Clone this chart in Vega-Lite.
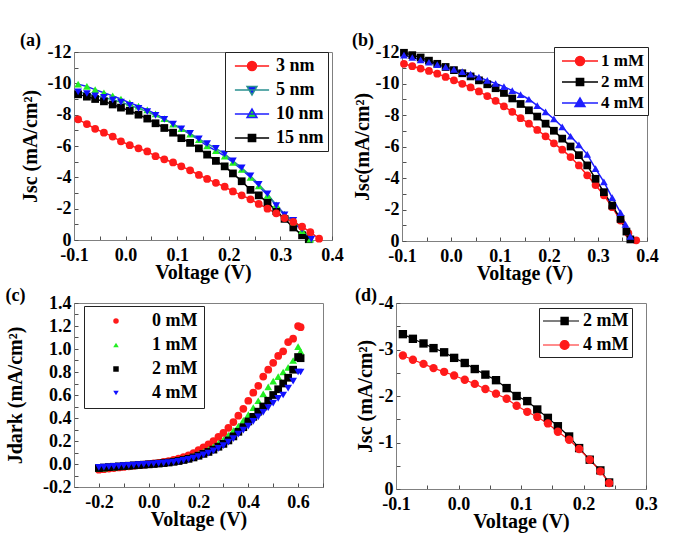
{
  "$schema": "https://vega.github.io/schema/vega-lite/v6.json",
  "background": "white",
  "padding": {"left": 5, "top": 31, "right": 5, "bottom": 5},
  "resolve": {"scale": {"stroke": "independent", "fill": "independent", "shape": "independent"}},
  "datasets": {
    "a": [
      {"V":-0.092,"J":-9.30,"s":"15 nm"},{"V":-0.075,"J":-9.15,"s":"15 nm"},{"V":-0.059,"J":-9.00,"s":"15 nm"},{"V":-0.042,"J":-8.85,"s":"15 nm"},{"V":-0.025,"J":-8.65,"s":"15 nm"},{"V":-0.009,"J":-8.45,"s":"15 nm"},{"V":0.008,"J":-8.25,"s":"15 nm"},{"V":0.025,"J":-8.00,"s":"15 nm"},{"V":0.042,"J":-7.75,"s":"15 nm"},{"V":0.058,"J":-7.45,"s":"15 nm"},{"V":0.075,"J":-7.15,"s":"15 nm"},{"V":0.092,"J":-6.85,"s":"15 nm"},{"V":0.108,"J":-6.50,"s":"15 nm"},{"V":0.125,"J":-6.20,"s":"15 nm"},{"V":0.142,"J":-5.85,"s":"15 nm"},{"V":0.158,"J":-5.45,"s":"15 nm"},{"V":0.175,"J":-5.05,"s":"15 nm"},{"V":0.192,"J":-4.70,"s":"15 nm"},{"V":0.208,"J":-4.25,"s":"15 nm"},{"V":0.225,"J":-3.75,"s":"15 nm"},{"V":0.242,"J":-3.20,"s":"15 nm"},{"V":0.258,"J":-2.85,"s":"15 nm"},{"V":0.275,"J":-2.40,"s":"15 nm"},{"V":0.292,"J":-1.85,"s":"15 nm"},{"V":0.308,"J":-1.35,"s":"15 nm"},{"V":0.325,"J":-0.80,"s":"15 nm"},{"V":0.342,"J":-0.30,"s":"15 nm"},{"V":0.355,"J":-0.05,"s":"15 nm"},
      {"V":-0.092,"J":-9.95,"s":"10 nm"},{"V":-0.075,"J":-9.80,"s":"10 nm"},{"V":-0.059,"J":-9.60,"s":"10 nm"},{"V":-0.042,"J":-9.40,"s":"10 nm"},{"V":-0.025,"J":-9.20,"s":"10 nm"},{"V":-0.009,"J":-9.00,"s":"10 nm"},{"V":0.008,"J":-8.75,"s":"10 nm"},{"V":0.025,"J":-8.55,"s":"10 nm"},{"V":0.042,"J":-8.30,"s":"10 nm"},{"V":0.058,"J":-8.05,"s":"10 nm"},{"V":0.075,"J":-7.75,"s":"10 nm"},{"V":0.092,"J":-7.40,"s":"10 nm"},{"V":0.108,"J":-7.10,"s":"10 nm"},{"V":0.125,"J":-6.75,"s":"10 nm"},{"V":0.142,"J":-6.40,"s":"10 nm"},{"V":0.158,"J":-6.00,"s":"10 nm"},{"V":0.175,"J":-5.70,"s":"10 nm"},{"V":0.192,"J":-5.35,"s":"10 nm"},{"V":0.208,"J":-4.95,"s":"10 nm"},{"V":0.225,"J":-4.50,"s":"10 nm"},{"V":0.242,"J":-4.00,"s":"10 nm"},{"V":0.258,"J":-3.45,"s":"10 nm"},{"V":0.275,"J":-2.85,"s":"10 nm"},{"V":0.292,"J":-2.25,"s":"10 nm"},{"V":0.308,"J":-1.65,"s":"10 nm"},{"V":0.325,"J":-1.15,"s":"10 nm"},{"V":0.342,"J":-0.60,"s":"10 nm"},{"V":0.358,"J":-0.05,"s":"10 nm"},
      {"V":-0.092,"J":-9.45,"s":"5 nm"},{"V":-0.075,"J":-9.35,"s":"5 nm"},{"V":-0.059,"J":-9.20,"s":"5 nm"},{"V":-0.042,"J":-9.10,"s":"5 nm"},{"V":-0.025,"J":-8.95,"s":"5 nm"},{"V":-0.009,"J":-8.80,"s":"5 nm"},{"V":0.008,"J":-8.60,"s":"5 nm"},{"V":0.025,"J":-8.40,"s":"5 nm"},{"V":0.042,"J":-8.20,"s":"5 nm"},{"V":0.058,"J":-7.95,"s":"5 nm"},{"V":0.075,"J":-7.70,"s":"5 nm"},{"V":0.092,"J":-7.40,"s":"5 nm"},{"V":0.108,"J":-7.10,"s":"5 nm"},{"V":0.125,"J":-6.80,"s":"5 nm"},{"V":0.142,"J":-6.45,"s":"5 nm"},{"V":0.158,"J":-6.15,"s":"5 nm"},{"V":0.175,"J":-5.85,"s":"5 nm"},{"V":0.192,"J":-5.50,"s":"5 nm"},{"V":0.208,"J":-5.05,"s":"5 nm"},{"V":0.225,"J":-4.60,"s":"5 nm"},{"V":0.242,"J":-4.10,"s":"5 nm"},{"V":0.258,"J":-3.55,"s":"5 nm"},{"V":0.275,"J":-2.95,"s":"5 nm"},{"V":0.292,"J":-2.20,"s":"5 nm"},{"V":0.308,"J":-1.60,"s":"5 nm"},{"V":0.325,"J":-1.25,"s":"5 nm"},{"V":0.342,"J":-0.70,"s":"5 nm"},{"V":0.360,"J":-0.05,"s":"5 nm"},
      {"V":-0.092,"J":-7.70,"s":"3 nm"},{"V":-0.075,"J":-7.40,"s":"3 nm"},{"V":-0.059,"J":-7.10,"s":"3 nm"},{"V":-0.042,"J":-6.85,"s":"3 nm"},{"V":-0.025,"J":-6.60,"s":"3 nm"},{"V":-0.009,"J":-6.30,"s":"3 nm"},{"V":0.008,"J":-6.05,"s":"3 nm"},{"V":0.025,"J":-5.85,"s":"3 nm"},{"V":0.042,"J":-5.65,"s":"3 nm"},{"V":0.058,"J":-5.35,"s":"3 nm"},{"V":0.075,"J":-5.15,"s":"3 nm"},{"V":0.092,"J":-4.95,"s":"3 nm"},{"V":0.108,"J":-4.70,"s":"3 nm"},{"V":0.125,"J":-4.45,"s":"3 nm"},{"V":0.142,"J":-4.15,"s":"3 nm"},{"V":0.158,"J":-3.90,"s":"3 nm"},{"V":0.175,"J":-3.65,"s":"3 nm"},{"V":0.192,"J":-3.40,"s":"3 nm"},{"V":0.208,"J":-3.10,"s":"3 nm"},{"V":0.225,"J":-2.85,"s":"3 nm"},{"V":0.242,"J":-2.60,"s":"3 nm"},{"V":0.258,"J":-2.30,"s":"3 nm"},{"V":0.275,"J":-2.00,"s":"3 nm"},{"V":0.292,"J":-1.70,"s":"3 nm"},{"V":0.308,"J":-1.40,"s":"3 nm"},{"V":0.325,"J":-1.15,"s":"3 nm"},{"V":0.342,"J":-0.85,"s":"3 nm"},{"V":0.358,"J":-0.50,"s":"3 nm"},{"V":0.375,"J":-0.08,"s":"3 nm"}
    ],
    "b": [
      {"V":-0.096,"J":-11.25,"s":"1 mM"},{"V":-0.079,"J":-11.10,"s":"1 mM"},{"V":-0.062,"J":-10.95,"s":"1 mM"},{"V":-0.045,"J":-10.80,"s":"1 mM"},{"V":-0.028,"J":-10.62,"s":"1 mM"},{"V":-0.011,"J":-10.42,"s":"1 mM"},{"V":0.006,"J":-10.20,"s":"1 mM"},{"V":0.023,"J":-9.98,"s":"1 mM"},{"V":0.040,"J":-9.75,"s":"1 mM"},{"V":0.057,"J":-9.50,"s":"1 mM"},{"V":0.074,"J":-9.20,"s":"1 mM"},{"V":0.091,"J":-8.90,"s":"1 mM"},{"V":0.108,"J":-8.55,"s":"1 mM"},{"V":0.125,"J":-8.20,"s":"1 mM"},{"V":0.142,"J":-7.80,"s":"1 mM"},{"V":0.159,"J":-7.45,"s":"1 mM"},{"V":0.176,"J":-7.05,"s":"1 mM"},{"V":0.193,"J":-6.65,"s":"1 mM"},{"V":0.210,"J":-6.20,"s":"1 mM"},{"V":0.227,"J":-5.80,"s":"1 mM"},{"V":0.244,"J":-5.33,"s":"1 mM"},{"V":0.261,"J":-4.80,"s":"1 mM"},{"V":0.278,"J":-4.17,"s":"1 mM"},{"V":0.295,"J":-3.55,"s":"1 mM"},{"V":0.312,"J":-2.90,"s":"1 mM"},{"V":0.329,"J":-2.15,"s":"1 mM"},{"V":0.346,"J":-1.30,"s":"1 mM"},{"V":0.362,"J":-0.50,"s":"1 mM"},{"V":0.378,"J":-0.04,"s":"1 mM"},
      {"V":-0.096,"J":-11.95,"s":"2 mM"},{"V":-0.079,"J":-11.80,"s":"2 mM"},{"V":-0.062,"J":-11.65,"s":"2 mM"},{"V":-0.045,"J":-11.45,"s":"2 mM"},{"V":-0.028,"J":-11.25,"s":"2 mM"},{"V":-0.011,"J":-11.05,"s":"2 mM"},{"V":0.006,"J":-10.85,"s":"2 mM"},{"V":0.023,"J":-10.65,"s":"2 mM"},{"V":0.040,"J":-10.45,"s":"2 mM"},{"V":0.057,"J":-10.20,"s":"2 mM"},{"V":0.074,"J":-9.95,"s":"2 mM"},{"V":0.091,"J":-9.70,"s":"2 mM"},{"V":0.108,"J":-9.40,"s":"2 mM"},{"V":0.125,"J":-9.05,"s":"2 mM"},{"V":0.142,"J":-8.70,"s":"2 mM"},{"V":0.159,"J":-8.30,"s":"2 mM"},{"V":0.176,"J":-7.90,"s":"2 mM"},{"V":0.193,"J":-7.45,"s":"2 mM"},{"V":0.210,"J":-7.00,"s":"2 mM"},{"V":0.227,"J":-6.50,"s":"2 mM"},{"V":0.244,"J":-6.00,"s":"2 mM"},{"V":0.261,"J":-5.45,"s":"2 mM"},{"V":0.278,"J":-4.80,"s":"2 mM"},{"V":0.295,"J":-3.95,"s":"2 mM"},{"V":0.312,"J":-3.10,"s":"2 mM"},{"V":0.329,"J":-2.25,"s":"2 mM"},{"V":0.346,"J":-1.40,"s":"2 mM"},{"V":0.358,"J":-0.60,"s":"2 mM"},{"V":0.366,"J":-0.10,"s":"2 mM"},
      {"V":-0.096,"J":-11.80,"s":"4 mM"},{"V":-0.079,"J":-11.65,"s":"4 mM"},{"V":-0.062,"J":-11.50,"s":"4 mM"},{"V":-0.045,"J":-11.35,"s":"4 mM"},{"V":-0.028,"J":-11.20,"s":"4 mM"},{"V":-0.011,"J":-11.05,"s":"4 mM"},{"V":0.006,"J":-10.90,"s":"4 mM"},{"V":0.023,"J":-10.75,"s":"4 mM"},{"V":0.040,"J":-10.60,"s":"4 mM"},{"V":0.057,"J":-10.40,"s":"4 mM"},{"V":0.074,"J":-10.20,"s":"4 mM"},{"V":0.091,"J":-10.00,"s":"4 mM"},{"V":0.108,"J":-9.80,"s":"4 mM"},{"V":0.125,"J":-9.55,"s":"4 mM"},{"V":0.142,"J":-9.30,"s":"4 mM"},{"V":0.159,"J":-9.00,"s":"4 mM"},{"V":0.176,"J":-8.60,"s":"4 mM"},{"V":0.193,"J":-8.20,"s":"4 mM"},{"V":0.210,"J":-7.75,"s":"4 mM"},{"V":0.227,"J":-7.25,"s":"4 mM"},{"V":0.244,"J":-6.65,"s":"4 mM"},{"V":0.261,"J":-6.10,"s":"4 mM"},{"V":0.278,"J":-5.50,"s":"4 mM"},{"V":0.295,"J":-4.60,"s":"4 mM"},{"V":0.312,"J":-3.75,"s":"4 mM"},{"V":0.329,"J":-2.75,"s":"4 mM"},{"V":0.346,"J":-1.80,"s":"4 mM"},{"V":0.356,"J":-1.05,"s":"4 mM"},{"V":0.366,"J":-0.30,"s":"4 mM"}
    ],
    "c": [
      {"V":-0.2,"J":-0.05,"s":"0 mM"},{"V":-0.18,"J":-0.045,"s":"0 mM"},{"V":-0.16,"J":-0.04,"s":"0 mM"},{"V":-0.14,"J":-0.035,"s":"0 mM"},{"V":-0.12,"J":-0.03,"s":"0 mM"},{"V":-0.1,"J":-0.025,"s":"0 mM"},{"V":-0.08,"J":-0.02,"s":"0 mM"},{"V":-0.06,"J":-0.015,"s":"0 mM"},{"V":-0.04,"J":-0.01,"s":"0 mM"},{"V":-0.02,"J":-0.005,"s":"0 mM"},{"V":0.0,"J":0.0,"s":"0 mM"},{"V":0.02,"J":0.005,"s":"0 mM"},{"V":0.04,"J":0.01,"s":"0 mM"},{"V":0.06,"J":0.018,"s":"0 mM"},{"V":0.08,"J":0.025,"s":"0 mM"},{"V":0.1,"J":0.035,"s":"0 mM"},{"V":0.12,"J":0.047,"s":"0 mM"},{"V":0.14,"J":0.06,"s":"0 mM"},{"V":0.16,"J":0.075,"s":"0 mM"},{"V":0.18,"J":0.095,"s":"0 mM"},{"V":0.2,"J":0.12,"s":"0 mM"},{"V":0.22,"J":0.145,"s":"0 mM"},{"V":0.24,"J":0.17,"s":"0 mM"},{"V":0.26,"J":0.2,"s":"0 mM"},{"V":0.28,"J":0.235,"s":"0 mM"},{"V":0.3,"J":0.27,"s":"0 mM"},{"V":0.32,"J":0.315,"s":"0 mM"},{"V":0.34,"J":0.365,"s":"0 mM"},{"V":0.36,"J":0.42,"s":"0 mM"},{"V":0.38,"J":0.48,"s":"0 mM"},{"V":0.4,"J":0.55,"s":"0 mM"},{"V":0.42,"J":0.62,"s":"0 mM"},{"V":0.44,"J":0.68,"s":"0 mM"},{"V":0.46,"J":0.76,"s":"0 mM"},{"V":0.48,"J":0.82,"s":"0 mM"},{"V":0.5,"J":0.88,"s":"0 mM"},{"V":0.52,"J":0.94,"s":"0 mM"},{"V":0.54,"J":0.98,"s":"0 mM"},{"V":0.56,"J":1.06,"s":"0 mM"},{"V":0.58,"J":1.09,"s":"0 mM"},{"V":0.6,"J":1.2,"s":"0 mM"},{"V":0.61,"J":1.19,"s":"0 mM"},
      {"V":-0.2,"J":-0.04,"s":"1 mM"},{"V":-0.18,"J":-0.036,"s":"1 mM"},{"V":-0.16,"J":-0.032,"s":"1 mM"},{"V":-0.14,"J":-0.028,"s":"1 mM"},{"V":-0.12,"J":-0.024,"s":"1 mM"},{"V":-0.1,"J":-0.02,"s":"1 mM"},{"V":-0.08,"J":-0.016,"s":"1 mM"},{"V":-0.06,"J":-0.012,"s":"1 mM"},{"V":-0.04,"J":-0.008,"s":"1 mM"},{"V":-0.02,"J":-0.004,"s":"1 mM"},{"V":0.0,"J":0.0,"s":"1 mM"},{"V":0.02,"J":0.004,"s":"1 mM"},{"V":0.04,"J":0.008,"s":"1 mM"},{"V":0.06,"J":0.013,"s":"1 mM"},{"V":0.08,"J":0.019,"s":"1 mM"},{"V":0.1,"J":0.026,"s":"1 mM"},{"V":0.12,"J":0.034,"s":"1 mM"},{"V":0.14,"J":0.044,"s":"1 mM"},{"V":0.16,"J":0.055,"s":"1 mM"},{"V":0.18,"J":0.068,"s":"1 mM"},{"V":0.2,"J":0.085,"s":"1 mM"},{"V":0.22,"J":0.105,"s":"1 mM"},{"V":0.24,"J":0.125,"s":"1 mM"},{"V":0.26,"J":0.15,"s":"1 mM"},{"V":0.28,"J":0.18,"s":"1 mM"},{"V":0.3,"J":0.21,"s":"1 mM"},{"V":0.32,"J":0.25,"s":"1 mM"},{"V":0.34,"J":0.29,"s":"1 mM"},{"V":0.36,"J":0.33,"s":"1 mM"},{"V":0.38,"J":0.38,"s":"1 mM"},{"V":0.4,"J":0.43,"s":"1 mM"},{"V":0.42,"J":0.49,"s":"1 mM"},{"V":0.44,"J":0.55,"s":"1 mM"},{"V":0.46,"J":0.61,"s":"1 mM"},{"V":0.48,"J":0.67,"s":"1 mM"},{"V":0.5,"J":0.72,"s":"1 mM"},{"V":0.52,"J":0.76,"s":"1 mM"},{"V":0.54,"J":0.8,"s":"1 mM"},{"V":0.56,"J":0.84,"s":"1 mM"},{"V":0.58,"J":0.9,"s":"1 mM"},{"V":0.6,"J":1.02,"s":"1 mM"},{"V":0.61,"J":0.98,"s":"1 mM"},
      {"V":-0.2,"J":-0.035,"s":"2 mM"},{"V":-0.18,"J":-0.031,"s":"2 mM"},{"V":-0.16,"J":-0.027,"s":"2 mM"},{"V":-0.14,"J":-0.024,"s":"2 mM"},{"V":-0.12,"J":-0.021,"s":"2 mM"},{"V":-0.1,"J":-0.018,"s":"2 mM"},{"V":-0.08,"J":-0.015,"s":"2 mM"},{"V":-0.06,"J":-0.012,"s":"2 mM"},{"V":-0.04,"J":-0.009,"s":"2 mM"},{"V":-0.02,"J":-0.006,"s":"2 mM"},{"V":0.0,"J":-0.003,"s":"2 mM"},{"V":0.02,"J":0.0,"s":"2 mM"},{"V":0.04,"J":0.004,"s":"2 mM"},{"V":0.06,"J":0.008,"s":"2 mM"},{"V":0.08,"J":0.013,"s":"2 mM"},{"V":0.1,"J":0.019,"s":"2 mM"},{"V":0.12,"J":0.026,"s":"2 mM"},{"V":0.14,"J":0.035,"s":"2 mM"},{"V":0.16,"J":0.045,"s":"2 mM"},{"V":0.18,"J":0.057,"s":"2 mM"},{"V":0.2,"J":0.072,"s":"2 mM"},{"V":0.22,"J":0.088,"s":"2 mM"},{"V":0.24,"J":0.105,"s":"2 mM"},{"V":0.26,"J":0.125,"s":"2 mM"},{"V":0.28,"J":0.15,"s":"2 mM"},{"V":0.3,"J":0.175,"s":"2 mM"},{"V":0.32,"J":0.205,"s":"2 mM"},{"V":0.34,"J":0.24,"s":"2 mM"},{"V":0.36,"J":0.28,"s":"2 mM"},{"V":0.38,"J":0.32,"s":"2 mM"},{"V":0.4,"J":0.37,"s":"2 mM"},{"V":0.42,"J":0.41,"s":"2 mM"},{"V":0.44,"J":0.455,"s":"2 mM"},{"V":0.46,"J":0.5,"s":"2 mM"},{"V":0.48,"J":0.55,"s":"2 mM"},{"V":0.5,"J":0.6,"s":"2 mM"},{"V":0.52,"J":0.65,"s":"2 mM"},{"V":0.54,"J":0.7,"s":"2 mM"},{"V":0.56,"J":0.75,"s":"2 mM"},{"V":0.58,"J":0.82,"s":"2 mM"},{"V":0.6,"J":0.93,"s":"2 mM"},{"V":0.61,"J":0.92,"s":"2 mM"},
      {"V":-0.2,"J":-0.03,"s":"4 mM"},{"V":-0.18,"J":-0.027,"s":"4 mM"},{"V":-0.16,"J":-0.024,"s":"4 mM"},{"V":-0.14,"J":-0.021,"s":"4 mM"},{"V":-0.12,"J":-0.018,"s":"4 mM"},{"V":-0.1,"J":-0.015,"s":"4 mM"},{"V":-0.08,"J":-0.012,"s":"4 mM"},{"V":-0.06,"J":-0.009,"s":"4 mM"},{"V":-0.04,"J":-0.006,"s":"4 mM"},{"V":-0.02,"J":-0.003,"s":"4 mM"},{"V":0.0,"J":0.0,"s":"4 mM"},{"V":0.02,"J":0.002,"s":"4 mM"},{"V":0.04,"J":0.005,"s":"4 mM"},{"V":0.06,"J":0.008,"s":"4 mM"},{"V":0.08,"J":0.012,"s":"4 mM"},{"V":0.1,"J":0.017,"s":"4 mM"},{"V":0.12,"J":0.023,"s":"4 mM"},{"V":0.14,"J":0.031,"s":"4 mM"},{"V":0.16,"J":0.041,"s":"4 mM"},{"V":0.18,"J":0.052,"s":"4 mM"},{"V":0.2,"J":0.065,"s":"4 mM"},{"V":0.22,"J":0.08,"s":"4 mM"},{"V":0.24,"J":0.095,"s":"4 mM"},{"V":0.26,"J":0.115,"s":"4 mM"},{"V":0.28,"J":0.135,"s":"4 mM"},{"V":0.3,"J":0.16,"s":"4 mM"},{"V":0.32,"J":0.19,"s":"4 mM"},{"V":0.34,"J":0.22,"s":"4 mM"},{"V":0.36,"J":0.26,"s":"4 mM"},{"V":0.38,"J":0.295,"s":"4 mM"},{"V":0.4,"J":0.33,"s":"4 mM"},{"V":0.42,"J":0.37,"s":"4 mM"},{"V":0.44,"J":0.41,"s":"4 mM"},{"V":0.46,"J":0.45,"s":"4 mM"},{"V":0.48,"J":0.49,"s":"4 mM"},{"V":0.5,"J":0.53,"s":"4 mM"},{"V":0.52,"J":0.57,"s":"4 mM"},{"V":0.54,"J":0.6,"s":"4 mM"},{"V":0.56,"J":0.66,"s":"4 mM"},{"V":0.58,"J":0.72,"s":"4 mM"},{"V":0.6,"J":0.8,"s":"4 mM"},{"V":0.61,"J":0.8,"s":"4 mM"}
    ],
    "d": [
      {"V":-0.089,"J":-3.33,"s":"2 mM"},{"V":-0.073,"J":-3.23,"s":"2 mM"},{"V":-0.056,"J":-3.13,"s":"2 mM"},{"V":-0.04,"J":-3.03,"s":"2 mM"},{"V":-0.023,"J":-2.94,"s":"2 mM"},{"V":-0.007,"J":-2.82,"s":"2 mM"},{"V":0.01,"J":-2.71,"s":"2 mM"},{"V":0.026,"J":-2.58,"s":"2 mM"},{"V":0.043,"J":-2.46,"s":"2 mM"},{"V":0.06,"J":-2.34,"s":"2 mM"},{"V":0.077,"J":-2.17,"s":"2 mM"},{"V":0.093,"J":-2.0,"s":"2 mM"},{"V":0.11,"J":-1.89,"s":"2 mM"},{"V":0.126,"J":-1.71,"s":"2 mM"},{"V":0.143,"J":-1.53,"s":"2 mM"},{"V":0.159,"J":-1.35,"s":"2 mM"},{"V":0.177,"J":-1.13,"s":"2 mM"},{"V":0.193,"J":-0.88,"s":"2 mM"},{"V":0.21,"J":-0.63,"s":"2 mM"},{"V":0.227,"J":-0.4,"s":"2 mM"},{"V":0.241,"J":-0.14,"s":"2 mM"},
      {"V":-0.089,"J":-2.87,"s":"4 mM"},{"V":-0.073,"J":-2.78,"s":"4 mM"},{"V":-0.056,"J":-2.69,"s":"4 mM"},{"V":-0.04,"J":-2.6,"s":"4 mM"},{"V":-0.023,"J":-2.52,"s":"4 mM"},{"V":-0.007,"J":-2.44,"s":"4 mM"},{"V":0.01,"J":-2.35,"s":"4 mM"},{"V":0.026,"J":-2.26,"s":"4 mM"},{"V":0.043,"J":-2.15,"s":"4 mM"},{"V":0.06,"J":-2.05,"s":"4 mM"},{"V":0.077,"J":-1.94,"s":"4 mM"},{"V":0.093,"J":-1.79,"s":"4 mM"},{"V":0.11,"J":-1.66,"s":"4 mM"},{"V":0.126,"J":-1.55,"s":"4 mM"},{"V":0.143,"J":-1.41,"s":"4 mM"},{"V":0.159,"J":-1.23,"s":"4 mM"},{"V":0.177,"J":-1.06,"s":"4 mM"},{"V":0.193,"J":-0.86,"s":"4 mM"},{"V":0.21,"J":-0.63,"s":"4 mM"},{"V":0.227,"J":-0.38,"s":"4 mM"},{"V":0.241,"J":-0.13,"s":"4 mM"}
    ]
  },
  "vconcat": [
    {
      "spacing": 7,
      "resolve": {"scale": {"stroke": "independent", "fill": "independent", "shape": "independent"}},
      "hconcat": [
        {
          "width": 258, "height": 188,
          "title": {"text": "(a)", "offset": -7},
          "data": {"name": "a"},
          "encoding": {
            "x": {"field": "V", "type": "quantitative", "scale": {"domain": [-0.1, 0.4], "nice": false, "zero": false},
              "axis": {"title": "Voltage (V)", "values": [-0.1,-0.05,0,0.05,0.1,0.15,0.2,0.25,0.3,0.35,0.4],
                "labelExpr": "abs(datum.value*10-round(datum.value*10))>0.1 ? '' : (datum.value<-0.0001 ? '-'+format(-datum.value,'.1f') : format(abs(datum.value),'.1f'))"}},
            "y": {"field": "J", "type": "quantitative", "scale": {"domain": [-12, 0], "reverse": true, "nice": false, "zero": false},
              "axis": {"title": "Jsc (mA/cm²)", "titlePadding": 7, "values": [-12,-11,-10,-9,-8,-7,-6,-5,-4,-3,-2,-1,0],
                "labelExpr": "abs(datum.value/2-round(datum.value/2))>0.1 ? '' : (datum.value<0 ? '-'+format(-datum.value,'d') : '0')"}}
          },
          "layer": [
            {"mark": {"type": "line", "strokeWidth": 1.5},
             "encoding": {"stroke": {"field": "s", "type": "nominal",
               "scale": {"domain": ["3 nm","5 nm","10 nm","15 nm"], "range": ["#ff1a1a","#2a9090","#1f1fff","#000000"]},
               "legend": {"title": null, "orient": "none", "legendX": 151, "legendY": 0, "padding": 4, "symbolSize": 324, "symbolStrokeWidth": 1.5, "symbolOffset": 13, "labelOffset": 14, "rowPadding": 5, "labelFontSize": 18,
                 "encode": {"symbols": {"update": {
                   "shape": {"signal": "datum.value=='3 nm' ? 'M-1.9,0L1.9,0M0.5,0A0.5,0.5,0,1,1,-0.5,0A0.5,0.5,0,1,1,0.5,0Z' : datum.value=='5 nm' ? 'M-1.9,0L1.9,0M-0.55,-0.4L0.55,-0.4L0,0.55Z' : datum.value=='10 nm' ? 'M-1.9,0L1.9,0M-0.55,0.4L0.55,0.4L0,-0.55Z' : 'M-1.9,0L1.9,0M-0.4,-0.4L0.4,-0.4L0.4,0.4L-0.4,0.4Z'"},
                   "fill": {"signal": "datum.value=='3 nm' ? '#ff1a1a' : datum.value=='5 nm' ? '#1010ff' : datum.value=='10 nm' ? '#22ee22' : '#000000'"},
                   "fillOpacity": {"value": 1}}}}}}}},
            {"mark": {"type": "point", "filled": true, "size": 60, "opacity": 1},
             "encoding": {
               "shape": {"field": "s", "type": "nominal", "scale": {"domain": ["15 nm","10 nm","5 nm","3 nm"], "range": ["square","triangle-up","triangle-down","circle"]}, "legend": null},
               "fill": {"field": "s", "type": "nominal", "scale": {"domain": ["10 nm","15 nm","3 nm","5 nm"], "range": ["#22ee22","#000000","#ff1a1a","#1010ff"]}, "legend": null}}}
          ]
        },
        {
          "width": 245, "height": 189,
          "title": {"text": "(b)", "offset": -7},
          "data": {"name": "b"},
          "encoding": {
            "x": {"field": "V", "type": "quantitative", "scale": {"domain": [-0.1, 0.4], "nice": false, "zero": false},
              "axis": {"title": "Voltage (V)", "values": [-0.1,-0.05,0,0.05,0.1,0.15,0.2,0.25,0.3,0.35,0.4],
                "labelExpr": "abs(datum.value*10-round(datum.value*10))>0.1 ? '' : (datum.value<-0.0001 ? '-'+format(-datum.value,'.1f') : format(abs(datum.value),'.1f'))"}},
            "y": {"field": "J", "type": "quantitative", "scale": {"domain": [-12, 0], "reverse": true, "nice": false, "zero": false},
              "axis": {"title": "Jsc(mA/cm²)", "titlePadding": 3, "values": [-12,-11,-10,-9,-8,-7,-6,-5,-4,-3,-2,-1,0],
                "labelExpr": "abs(datum.value/2-round(datum.value/2))>0.1 ? '' : (datum.value<0 ? '-'+format(-datum.value,'d') : '0')"}}
          },
          "layer": [
            {"mark": {"type": "line", "strokeWidth": 1.5},
             "encoding": {"stroke": {"field": "s", "type": "nominal",
               "scale": {"domain": ["1 mM","2 mM","4 mM"], "range": ["#ff1a1a","#000000","#1f1fff"]},
               "legend": {"title": null, "orient": "none", "legendX": 152, "legendY": -5, "padding": 4, "symbolSize": 324, "symbolStrokeWidth": 1.5, "symbolOffset": 12, "labelOffset": 11, "rowPadding": 3, "labelFontSize": 17,
                 "encode": {"symbols": {"update": {
                   "shape": {"signal": "datum.value=='1 mM' ? 'M-2,0L2,0M0.5,0A0.5,0.5,0,1,1,-0.5,0A0.5,0.5,0,1,1,0.5,0Z' : datum.value=='2 mM' ? 'M-2,0L2,0M-0.4,-0.4L0.4,-0.4L0.4,0.4L-0.4,0.4Z' : 'M-2,0L2,0M-0.55,0.4L0.55,0.4L0,-0.55Z'"},
                   "fill": {"signal": "datum.value=='1 mM' ? '#ff1a1a' : datum.value=='2 mM' ? '#000000' : '#1f1fff'"},
                   "fillOpacity": {"value": 1}}}}}}}},
            {"mark": {"type": "point", "filled": true, "size": 60, "opacity": 1},
             "encoding": {
               "shape": {"field": "s", "type": "nominal", "scale": {"domain": ["4 mM","2 mM","1 mM"], "range": ["triangle-up","square","circle"]}, "legend": null},
               "fill": {"field": "s", "type": "nominal", "scale": {"domain": ["2 mM","1 mM","4 mM"], "range": ["#000000","#ff1a1a","#1f1fff"]}, "legend": null}}}
          ]
        }
      ]
    },
    {
      "spacing": 30,
      "resolve": {"scale": {"stroke": "independent", "fill": "independent", "shape": "independent"}},
      "hconcat": [
        {
          "width": 249, "height": 184,
          "title": {"text": "(c)", "offset": -11},
          "data": {"name": "c"},
          "mark": {"type": "point", "filled": true, "size": 60, "opacity": 1},
          "encoding": {
            "x": {"field": "V", "type": "quantitative", "scale": {"domain": [-0.3, 0.7], "nice": false, "zero": false},
              "axis": {"title": "Voltage (V)", "values": [-0.3,-0.2,-0.1,0,0.1,0.2,0.3,0.4,0.5,0.6,0.7],
                "labelExpr": "abs(datum.value*5-round(datum.value*5))>0.1 ? '' : (datum.value<-0.0001 ? '-'+format(-datum.value,'.1f') : format(abs(datum.value),'.1f'))"}},
            "y": {"field": "J", "type": "quantitative", "scale": {"domain": [-0.2, 1.4], "nice": false, "zero": false},
              "axis": {"title": "Jdark (mA/cm²)", "titlePadding": 17, "values": [-0.2,-0.1,0,0.1,0.2,0.3,0.4,0.5,0.6,0.7,0.8,0.9,1.0,1.1,1.2,1.3,1.4],
                "labelExpr": "abs(datum.value*5-round(datum.value*5))>0.1 ? '' : (datum.value<-0.0001 ? '-'+format(-datum.value,'.1f') : format(abs(datum.value),'.1f'))"}},
            "shape": {"field": "s", "type": "nominal", "scale": {"domain": ["0 mM","1 mM","2 mM","4 mM"], "range": ["circle","triangle-up","square","triangle-down"]},
              "legend": {"title": null, "orient": "none", "legendX": 10, "legendY": 3, "padding": 6, "symbolSize": 30, "symbolOffset": 17, "labelOffset": 27, "rowPadding": 6, "labelFontSize": 18}},
            "fill": {"field": "s", "type": "nominal", "scale": {"domain": ["0 mM","1 mM","2 mM","4 mM"], "range": ["#ff1a1a","#22ee22","#000000","#1010ff"]},
              "legend": {"title": null, "orient": "none", "legendX": 10, "legendY": 3, "padding": 6, "symbolSize": 30, "symbolOffset": 17, "labelOffset": 27, "rowPadding": 6, "labelFontSize": 18}}
          }
        },
        {
          "width": 250, "height": 186,
          "title": {"text": "(d)", "offset": -11},
          "data": {"name": "d"},
          "encoding": {
            "x": {"field": "V", "type": "quantitative", "scale": {"domain": [-0.1, 0.3], "nice": false, "zero": false},
              "axis": {"title": "Voltage (V)", "values": [-0.1,-0.05,0,0.05,0.1,0.15,0.2,0.25,0.3],
                "labelExpr": "abs(datum.value*10-round(datum.value*10))>0.1 ? '' : (datum.value<-0.0001 ? '-'+format(-datum.value,'.1f') : format(abs(datum.value),'.1f'))"}},
            "y": {"field": "J", "type": "quantitative", "scale": {"domain": [-4, 0], "reverse": true, "nice": false, "zero": false},
              "axis": {"title": "Jsc (mA/cm²)", "titlePadding": 3, "values": [-4,-3.5,-3,-2.5,-2,-1.5,-1,-0.5,0],
                "labelExpr": "abs(datum.value-round(datum.value))>0.1 ? '' : (datum.value<0 ? '-'+format(-datum.value,'d') : '0')"}}
          },
          "layer": [
            {"mark": {"type": "line", "strokeWidth": 1.2},
             "encoding": {"stroke": {"field": "s", "type": "nominal",
               "scale": {"domain": ["2 mM","4 mM"], "range": ["#000000","#ff1a1a"]},
               "legend": {"title": null, "orient": "none", "legendX": 143, "legendY": 5, "padding": 3, "symbolSize": 324, "symbolStrokeWidth": 1.2, "symbolOffset": 9, "labelOffset": 12, "rowPadding": 5, "labelFontSize": 18,
                 "encode": {"symbols": {"update": {
                   "shape": {"signal": "datum.value=='2 mM' ? 'M-2,0L2,0M0.0,-0.4L0.8,-0.4L0.8,0.4L0.0,0.4Z' : 'M-2,0L2,0M0.9,0A0.5,0.5,0,1,1,-0.1,0A0.5,0.5,0,1,1,0.9,0Z'"},
                   "fill": {"signal": "datum.value=='2 mM' ? '#000000' : '#ff1a1a'"},
                   "fillOpacity": {"value": 1}}}}}}}},
            {"mark": {"type": "point", "filled": true, "size": 70, "opacity": 1},
             "encoding": {
               "shape": {"field": "s", "type": "nominal", "scale": {"domain": ["4 mM","2 mM"], "range": ["circle","square"]}, "legend": null},
               "fill": {"field": "s", "type": "nominal", "scale": {"domain": ["4 mM","2 mM"], "range": ["#ff1a1a","#000000"]}, "legend": null}}}
          ]
        }
      ]
    }
  ],
  "spacing": 2,
  "config": {
    "font": "Liberation Serif",
    "view": {"stroke": "#808080", "strokeWidth": 1},
    "axis": {"labelFont": "Liberation Serif", "labelFontWeight": "bold", "labelFontSize": 18, "labelColor": "#000000", "labelFlush": false, "labelOverlap": false,
      "titleFont": "Liberation Serif", "titleFontWeight": "bold", "titleFontSize": 20, "titleColor": "#000000",
      "domainColor": "#808080", "tickColor": "#505050", "tickSize": -4, "tickWidth": 1, "grid": false},
    "axisX": {"labelPadding": 10, "titlePadding": -2},
    "axisY": {"labelPadding": 7},
    "legend": {"labelFont": "Liberation Serif", "labelFontWeight": "bold", "labelFontSize": 18, "labelColor": "#000000", "fillColor": "#ffffff", "strokeColor": "#222222", "cornerRadius": 0},
    "title": {"font": "Liberation Serif", "fontWeight": "bold", "fontSize": 18, "anchor": "start", "color": "#000000", "frame": "bounds"}
  }
}
